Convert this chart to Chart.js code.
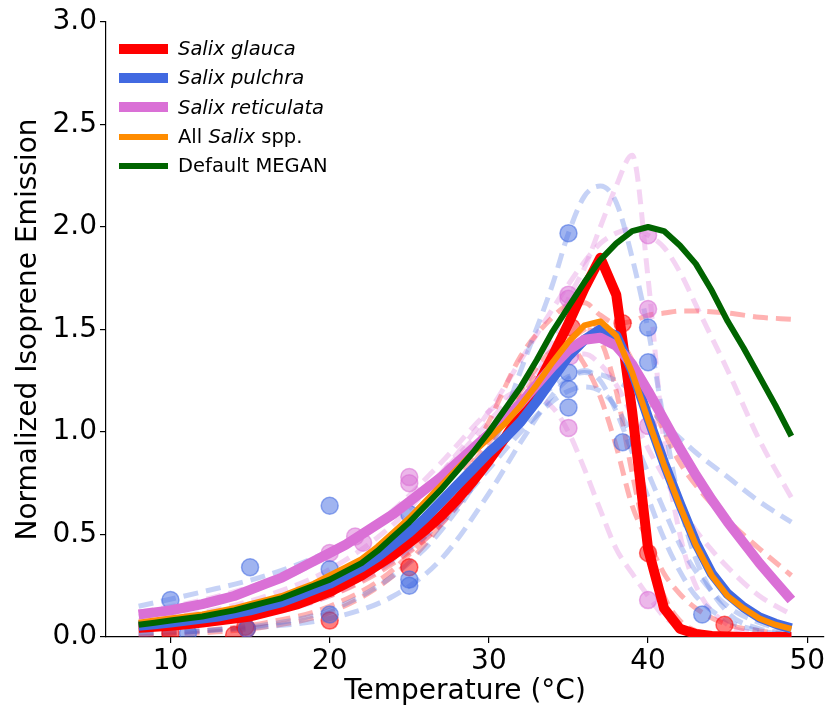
<!DOCTYPE html>
<html>
<head>
<meta charset="utf-8">
<script src="https://cdn.jsdelivr.net/npm/chart.js@4.4.1/dist/chart.umd.min.js"></script>
<style>
  body { margin: 0; background: #fff; }
  #wrap { position: relative; width: 834px; height: 712px; }
  #legend { position: absolute; left: 119px; top: 34px; font-family: 'DejaVu Sans'; font-size: 19.5px; color: #000; }
  .row { display: flex; align-items: center; height: 29.3px; white-space: nowrap; }
  .swatch { width: 49px; margin-right: 10px; }
</style>
</head>
<body>
<div id="wrap">
  <canvas id="chart" width="834" height="712"></canvas>
  <div id="legend">
    <div class="row"><span class="swatch" style="height:10px;background:#ff0000"></span><i>Salix glauca</i></div>
    <div class="row"><span class="swatch" style="height:10px;background:#4169e1"></span><i>Salix pulchra</i></div>
    <div class="row"><span class="swatch" style="height:10px;background:#da70d6"></span><i>Salix reticulata</i></div>
    <div class="row"><span class="swatch" style="height:6px;background:#ff8c00"></span><span>All <i>Salix</i> spp.</span></div>
    <div class="row"><span class="swatch" style="height:6px;background:#006400"></span><span>Default MEGAN</span></div>
  </div>
</div>
<script>
// axes
const xTicks = [10, 20, 30, 40, 50];
const yTicks = [0, 0.5, 1.0, 1.5, 2.0, 2.5, 3.0];

// fitted curves (one point per degree)
const tempX = [8, 9, 10, 11, 12, 13, 14, 15, 16, 17, 18, 19, 20, 21, 22, 23, 24, 25, 26, 27, 28,
               29, 30, 31, 32, 33, 34, 35, 36, 37, 38, 39, 40, 41, 42, 43, 44, 45, 46, 47, 48, 49];
const glaucaFit = [0.045, 0.05, 0.055, 0.062, 0.07, 0.08, 0.09, 0.1, 0.12, 0.14, 0.16, 0.19, 0.22, 0.26, 0.3,
                   0.35, 0.4, 0.46, 0.52, 0.59, 0.67, 0.76, 0.86, 0.97, 1.09, 1.22, 1.37, 1.53, 1.7, 1.85,
                   1.67, 1.1, 0.43, 0.14, 0.04, 0.015, 0.005, 0.002, 0, 0, 0, 0];
const pulchraFit = [0.055, 0.062, 0.07, 0.08, 0.09, 0.1, 0.115, 0.13, 0.15, 0.17, 0.2, 0.23, 0.26, 0.3, 0.34,
                    0.39, 0.45, 0.51, 0.58, 0.66, 0.74, 0.82, 0.9, 0.97, 1.05, 1.15, 1.26, 1.37, 1.45, 1.5,
                    1.47, 1.3, 1.07, 0.85, 0.65, 0.46, 0.31, 0.21, 0.145, 0.095, 0.065, 0.042];
const reticulataFit = [0.11, 0.12, 0.13, 0.145, 0.16, 0.18, 0.2, 0.23, 0.26, 0.29, 0.33, 0.37, 0.41, 0.45, 0.5,
                       0.55, 0.6, 0.66, 0.72, 0.78, 0.85, 0.92, 0.99, 1.06, 1.14, 1.23, 1.32, 1.4, 1.45, 1.46,
                       1.42, 1.33, 1.2, 1.06, 0.92, 0.79, 0.67, 0.56, 0.46, 0.36, 0.27, 0.18];
const allSalixFit = [0.07, 0.08, 0.09, 0.1, 0.11, 0.125, 0.14, 0.16, 0.18, 0.2, 0.23, 0.26, 0.3, 0.34, 0.38,
                     0.44, 0.51, 0.58, 0.66, 0.74, 0.82, 0.9, 0.97, 1.04, 1.13, 1.23, 1.34, 1.44, 1.52, 1.54,
                     1.47, 1.29, 1.06, 0.84, 0.64, 0.45, 0.3, 0.2, 0.14, 0.09, 0.06, 0.04];
const meganFit = [0.06, 0.07, 0.08, 0.09, 0.1, 0.115, 0.13, 0.15, 0.17, 0.19, 0.22, 0.25, 0.28, 0.32, 0.36,
                  0.42, 0.49, 0.56, 0.64, 0.72, 0.81, 0.9, 1.0, 1.11, 1.22, 1.35, 1.49, 1.61, 1.73, 1.84,
                  1.92, 1.98, 2.0, 1.98, 1.91, 1.82, 1.69, 1.54, 1.41, 1.27, 1.13, 0.98];

// individual plant fits (dashed)
const indivX = [8, 12, 16, 20, 24, 27, 30, 32, 34, 35, 36, 37, 38, 39, 40, 41, 42, 43, 45, 47, 49];
const pulchraA = [0.01, 0.03, 0.06, 0.13, 0.3, 0.52, 0.88, 1.3, 1.72, 1.97, 2.15, 2.2, 2.12, 1.85, 1.5, 1.05, 0.65, 0.38, 0.12, 0.04, 0.02];
const pulchraB = [0.15, 0.22, 0.3, 0.42, 0.6, 0.78, 0.98, 1.1, 1.22, 1.27, 1.29, 1.28, 1.25, 1.2, 1.12, 1.04, 0.97, 0.9, 0.78, 0.66, 0.56];
const pulchraC = [0.02, 0.03, 0.05, 0.09, 0.2, 0.38, 0.7, 0.95, 1.18, 1.26, 1.3, 1.25, 1.1, 0.9, 0.68, 0.48, 0.32, 0.2, 0.08, 0.03, 0.01];
const pulchraD = [0.05, 0.08, 0.13, 0.22, 0.38, 0.56, 0.82, 1.0, 1.15, 1.2, 1.22, 1.2, 1.12, 0.98, 0.8, 0.62, 0.45, 0.32, 0.15, 0.07, 0.03];
const glaucaA = [0.01, 0.03, 0.07, 0.15, 0.33, 0.6, 1.05, 1.37, 1.56, 1.62, 1.63, 1.57, 1.53, 1.54, 1.57, 1.58, 1.59, 1.59, 1.58, 1.56, 1.55];
const glaucaB = [0.0, 0.02, 0.05, 0.12, 0.3, 0.55, 0.92, 1.2, 1.4, 1.42, 1.33, 1.17, 0.93, 0.64, 0.47, 0.31, 0.21, 0.14, 0.06, 0.03, 0.01];
const glaucaC = [0.03, 0.06, 0.12, 0.22, 0.42, 0.65, 0.95, 1.17, 1.36, 1.44, 1.5, 1.52, 1.48, 1.35, 1.18, 1.0, 0.85, 0.74, 0.57, 0.43, 0.3];
const glaucaD = [0.04, 0.07, 0.12, 0.2, 0.36, 0.55, 0.85, 1.1, 1.35, 1.45, 1.5, 1.45, 1.2, 0.8, 0.45, 0.2, 0.08, 0.03, 0.01, 0, 0];
const reticulataA = [0.03, 0.06, 0.11, 0.2, 0.37, 0.55, 0.85, 1.12, 1.45, 1.65, 1.8, 2.0, 2.2, 2.35, 1.75, 0.95, 0.5, 0.25, 0.06, 0.02, 0.01];
const reticulataB = [0.08, 0.12, 0.2, 0.33, 0.55, 0.8, 1.1, 1.35, 1.6, 1.72, 1.83, 1.92, 1.97, 1.99, 1.96, 1.9, 1.78, 1.62, 1.3, 0.96, 0.68];
const reticulataC = [0.1, 0.16, 0.25, 0.4, 0.62, 0.85, 1.1, 1.2, 1.12, 1.0, 0.82, 0.62, 0.43, 0.31, 0.2, 0.1, 0.05, 0.02, 0.01, 0, 0];
const reticulataD = [0.12, 0.18, 0.27, 0.4, 0.6, 0.8, 1.05, 1.22, 1.35, 1.38, 1.38, 1.33, 1.23, 1.08, 0.92, 0.78, 0.64, 0.52, 0.34, 0.2, 0.11];

// measurements
const pulchraObsX = [10, 11.1, 15, 14.8, 20, 20, 20, 25, 25, 25, 35, 35, 35, 35, 38.4, 40, 40, 43.4];
const pulchraObsY = [0.18, 0.02, 0.34, 0.04, 0.64, 0.33, 0.11, 0.28, 0.25, 0.6, 1.97, 1.29, 1.21, 1.12, 0.95, 1.51, 1.34, 0.11];
const glaucaObsX = [10, 14, 14.7, 14.8, 20, 20, 25, 35.2, 38.4, 40, 44.8];
const glaucaObsY = [0.02, 0.01, 0.05, 0.04, 0.24, 0.08, 0.34, 1.51, 1.53, 0.41, 0.06];
const reticulataObsX = [20, 21.6, 22.1, 25, 25, 35, 35, 35.1, 35, 40, 40, 40, 40];
const reticulataObsY = [0.41, 0.49, 0.46, 0.78, 0.75, 1.67, 1.65, 1.37, 1.02, 1.96, 1.6, 1.03, 0.18];

const RED = '255,0,0', BLUE = '65,105,225', PINK = '218,112,214';

function pts(xs, ys) {
    return xs.map((x, i) => ({ x: x, y: ys[i] }));
}

function fitLine(ys, color, width, order) {
    return { data: pts(tempX, ys), showLine: true, borderColor: color, borderWidth: width,
             pointRadius: 0, tension: 0, order: order, borderJoinStyle: 'round' };
}

function dashLine(ys, rgb) {
    return { data: pts(indivX, ys), showLine: true, borderColor: 'rgba(' + rgb + ',0.3)', borderWidth: 5,
             borderDash: [15, 8], pointRadius: 0, cubicInterpolationMode: 'monotone', order: 20 };
}

function dots(xs, ys, rgb) {
    return { data: pts(xs, ys), showLine: false, backgroundColor: 'rgba(' + rgb + ',0.5)',
             borderColor: 'rgba(' + rgb + ',0.55)', borderWidth: 1.5, pointRadius: 8.5, order: 10 };
}

const datasets = [
    fitLine(meganFit, '#006400', 6, 1),
    fitLine(allSalixFit, '#ff8c00', 6, 2),
    fitLine(reticulataFit, '#da70d6', 10, 3),
    fitLine(pulchraFit, '#4169e1', 10, 4),
    fitLine(glaucaFit, '#ff0000', 10, 5),
    dots(pulchraObsX, pulchraObsY, BLUE),
    dots(glaucaObsX, glaucaObsY, RED),
    dots(reticulataObsX, reticulataObsY, PINK),
    dashLine(pulchraA, BLUE), dashLine(pulchraB, BLUE), dashLine(pulchraC, BLUE), dashLine(pulchraD, BLUE),
    dashLine(glaucaA, RED), dashLine(glaucaB, RED), dashLine(glaucaC, RED), dashLine(glaucaD, RED),
    dashLine(reticulataA, PINK), dashLine(reticulataB, PINK), dashLine(reticulataC, PINK), dashLine(reticulataD, PINK)
];

const tickFont = { family: 'DejaVu Sans', size: 28 };
const titleFont = { family: 'DejaVu Sans', size: 28 };

new Chart(document.getElementById('chart'), {
    type: 'scatter',
    data: { datasets: datasets },
    options: {
        responsive: false,
        animation: false,
        devicePixelRatio: 1,
        layout: { padding: { top: 22, right: 6, left: 0, bottom: 0 } },
        plugins: { legend: { display: false }, tooltip: { enabled: false } },
        scales: {
            x: {
                type: 'linear', min: 5.95, max: 51.05,
                afterBuildTicks: s => { s.ticks = xTicks.map(v => ({ value: v })); },
                afterFit: s => { s.height = 75; },
                grid: { display: true, drawOnChartArea: false, drawTicks: true, tickLength: 6, color: '#000', lineWidth: 1.2 },
                border: { display: true, color: '#000', width: 1.2 },
                ticks: { font: tickFont, color: '#000', padding: 2 },
                title: { display: true, text: 'Temperature (°C)', font: titleFont, color: '#000', padding: { top: 0, bottom: 3 } }
            },
            y: {
                type: 'linear', min: 0, max: 3,
                afterBuildTicks: s => { s.ticks = yTicks.map(v => ({ value: v })); },
                afterFit: s => { s.width = 106; },
                grid: { display: true, drawOnChartArea: false, drawTicks: true, tickLength: 6, color: '#000', lineWidth: 1.2 },
                border: { display: true, color: '#000', width: 1.2 },
                ticks: { font: tickFont, color: '#000', padding: 3, callback: v => v.toFixed(1) },
                title: { display: true, text: 'Normalized Isoprene Emission', font: titleFont, color: '#000', padding: { top: 12, bottom: 0 } }
            }
        }
    }
});
</script>
</body>
</html>
